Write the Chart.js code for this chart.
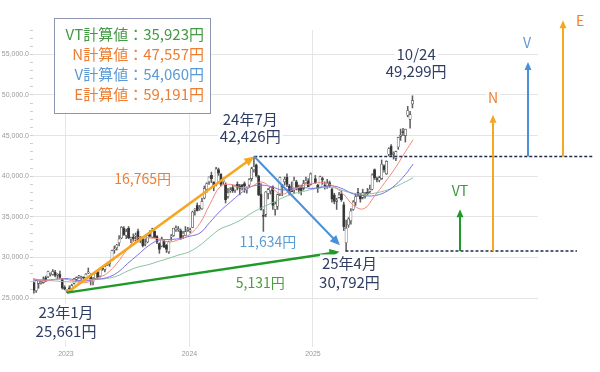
<!DOCTYPE html>
<html><head><meta charset="utf-8">
<script src="https://cdn.jsdelivr.net/npm/chart.js@4.4.1/dist/chart.umd.min.js"></script>
<style>html,body{margin:0;padding:0;background:#fff;}</style>
</head><body>
<canvas id="c" width="600" height="372"></canvas>
<script>
// ---- weekly candles (week start dates) ----
const weeks = [
 "2022-09-26","2022-10-03","2022-10-10","2022-10-17","2022-10-24","2022-10-31","2022-11-07","2022-11-14","2022-11-21","2022-11-28","2022-12-05","2022-12-12","2022-12-19","2022-12-26",
 "2023-01-02","2023-01-09","2023-01-16","2023-01-23","2023-01-30","2023-02-06","2023-02-13","2023-02-20","2023-02-27","2023-03-06","2023-03-13","2023-03-20","2023-03-27",
 "2023-04-03","2023-04-10","2023-04-17","2023-04-24","2023-05-01","2023-05-08","2023-05-15","2023-05-22","2023-05-29","2023-06-05","2023-06-12","2023-06-19","2023-06-26",
 "2023-07-03","2023-07-10","2023-07-17","2023-07-24","2023-07-31","2023-08-07","2023-08-14","2023-08-21","2023-08-28","2023-09-04","2023-09-11","2023-09-18","2023-09-25",
 "2023-10-02","2023-10-09","2023-10-16","2023-10-23","2023-10-30","2023-11-06","2023-11-13","2023-11-20","2023-11-27","2023-12-04","2023-12-11","2023-12-18","2023-12-25",
 "2024-01-01","2024-01-08","2024-01-15","2024-01-22","2024-01-29","2024-02-05","2024-02-12","2024-02-19","2024-02-26","2024-03-04","2024-03-11","2024-03-18","2024-03-25",
 "2024-04-01","2024-04-08","2024-04-15","2024-04-22","2024-04-29","2024-05-06","2024-05-13","2024-05-20","2024-05-27","2024-06-03","2024-06-10","2024-06-17","2024-06-24",
 "2024-07-01","2024-07-08","2024-07-15","2024-07-22","2024-07-29","2024-08-05","2024-08-12","2024-08-19","2024-08-26","2024-09-02","2024-09-09","2024-09-16","2024-09-23",
 "2024-09-30","2024-10-07","2024-10-14","2024-10-21","2024-10-28","2024-11-04","2024-11-11","2024-11-18","2024-11-25","2024-12-02","2024-12-09","2024-12-16","2024-12-23",
 "2025-01-06","2025-01-13","2025-01-20","2025-01-27","2025-02-03","2025-02-10","2025-02-17","2025-02-24","2025-03-03","2025-03-10","2025-03-17","2025-03-24","2025-03-31",
 "2025-04-07","2025-04-14","2025-04-21","2025-04-28","2025-05-05","2025-05-12","2025-05-19","2025-05-26","2025-06-02","2025-06-09","2025-06-16","2025-06-23","2025-06-30",
 "2025-07-07","2025-07-14","2025-07-21","2025-07-28","2025-08-04","2025-08-11","2025-08-18","2025-08-25","2025-09-01","2025-09-08","2025-09-15","2025-09-22","2025-09-29",
 "2025-10-06","2025-10-13","2025-10-20"
];
const openP = [
 26900,25900,26800,26800,26900,27500,27600,27900,27900,28200,27800,27900,27300,26300,
 25800,26200,26000,26800,27300,27600,27500,27500,27500,28100,27800,27000,27400,
 28200,27700,28600,28500,29000,29200,29600,30900,31200,31800,32400,33600,32700,
 33600,32200,32500,32600,33200,32200,32300,31600,31900,32800,32500,33200,32600,
 31700,31400,32000,31500,30700,32500,32700,33400,33400,33300,32700,32700,33300,
 33200,33700,35800,36400,36000,36000,37300,38400,39300,40100,39300,39000,40800,
 40300,39300,39000,37500,38200,38600,38300,39000,38800,38900,39100,38300,38900,
 39700,40800,41400,40000,37800,35200,35300,37900,38200,38700,35900,36300,37800,
 38900,39300,39900,38800,38300,38300,39300,38500,38700,38500,39200,39400,39000,
 39700,38900,38600,39700,38800,38800,39200,38400,37700,36900,37400,37800,36500,
 31800,34000,34500,35900,36800,38000,37600,37400,37500,38000,38100,38400,40800,
 39600,39500,39700,41300,40300,42700,43700,42700,42200,43600,44900,45500,45000,
 47500,47000,48900
];
const highP = [
 27000,27300,27100,27200,27600,27700,28300,28100,28500,28400,28000,28300,27400,26500,
 26000,26500,26700,27400,27600,27800,27700,27600,28000,28700,28000,27500,28100,
 28300,28500,28800,28900,29300,29500,30900,31400,31600,32700,33800,33800,33500,
 33800,32500,32900,33000,33500,32600,32500,32300,32800,33300,33600,33300,32700,
 31800,32500,32200,31600,32000,32800,33600,33900,33800,33500,33200,33800,33700,
 33600,35700,36000,36700,36400,37300,38800,39200,39900,40500,39300,41100,41000,
 40300,39800,39200,38500,38600,38900,38900,39300,39000,39000,39300,38700,39700,
 41100,42426,41500,40100,39100,35900,38100,38500,38700,38800,36800,37800,39900,
 39000,39900,40300,39000,39300,39900,39500,38900,38900,39500,39900,39700,40400,
 40100,39000,40000,39900,39300,39600,39400,38500,37900,37300,38000,38200,36800,
 34600,34900,36000,37000,37700,38500,37900,38400,38000,38500,38900,40300,40900,
 39900,40000,42000,41400,41900,43500,43900,43000,43100,44800,45800,45900,45800,
 48600,48000,49900
];
const lowP = [
 25600,25700,26200,26700,26800,27000,27500,27700,27800,27600,27400,27400,26100,26000,
 25661,26000,25800,26700,27100,27400,27300,27100,27300,28000,26600,26600,27300,
 27400,27600,28400,28200,29000,28900,29600,30500,30900,31400,32300,32700,32300,
 32300,31800,32000,32000,31900,31800,31300,31400,31800,32500,32400,32400,31700,
 30500,31300,31200,30600,30500,32100,32600,33200,33200,32200,32300,32700,33200,
 33000,33700,35200,35700,35800,35900,37200,38000,39000,39200,38200,38800,40100,
 38800,39000,36700,37300,38000,38000,38000,38300,37700,38300,38000,37900,38700,
 39400,40500,39900,37600,35800,33200,35000,37200,37800,35900,35200,35900,37600,
 37600,38900,38700,37700,38100,37900,38300,37900,37700,38300,39100,38700,38900,
 39100,38000,38600,39000,38400,38500,38600,36800,36600,35900,37300,36900,33300,
 30792,33700,34100,35800,36400,37500,36800,37200,37300,37700,37900,38300,39600,
 39300,39300,39600,40500,40200,42500,42400,42100,41900,43300,44400,45000,44200,
 47300,45900,48400
];
const closeP = [
 25940,27120,27090,26890,27110,27200,28260,27900,28280,27780,27900,27530,26240,26090,
 25970,26120,26550,27380,27510,27670,27510,27450,27930,28140,27330,27390,28040,
 27520,28490,28560,28860,29160,29390,30810,30920,31520,32270,33710,32780,33190,
 32390,32390,32300,32760,32190,32470,31450,31620,32710,32610,33530,32400,31860,
 30990,32320,31260,30990,31950,32570,33590,33630,33430,32310,32970,33170,33460,
 33380,35580,35960,35750,36160,36900,38490,39100,39910,39690,38710,40890,40370,
 38990,39520,37070,37930,38240,38230,38790,38650,38490,38680,38810,38600,39580,
 40910,41190,40060,37670,35910,35030,38060,38360,38650,36390,36580,37720,39830,
 38640,39610,38980,37910,38050,39500,38640,38280,38210,39090,39470,38700,40280,
 39190,38450,39930,39570,38790,39150,38780,37160,36890,37050,37680,37120,33780,
 33590,34730,35710,36830,37500,37750,37160,37970,37740,37830,38400,40150,39810,
 39570,39820,41460,40800,41820,43380,42630,42720,43020,44770,45050,45350,45770,
 48090,47580,49300
];

// ---- moving averages (read monthly) ----
const maDates = ["2022-09-25","2022-11-01","2022-12-01",
 "2023-01-01","2023-02-01","2023-03-01","2023-04-01","2023-05-01","2023-06-01","2023-07-01","2023-08-01","2023-09-01","2023-10-01","2023-11-01","2023-12-01",
 "2024-01-01","2024-02-01","2024-03-01","2024-04-01","2024-05-01","2024-06-01","2024-07-01","2024-08-01","2024-09-01","2024-10-01","2024-11-01","2024-12-01",
 "2025-01-01","2025-02-01","2025-03-01","2025-04-01","2025-05-01","2025-06-01","2025-07-01","2025-08-01","2025-09-01","2025-10-01","2025-10-24"];
const ma13 = [27400,27100,27300,
 27300,27000,26900,27400,28000,29300,31000,32400,32400,32300,31900,32200,
 32800,34200,36500,38700,39000,38600,38700,39300,38500,37800,38300,38800,
 39100,39200,38800,37800,36400,36000,37500,39200,41000,43000,44500];
const ma26 = [27200,27200,27300,
 27400,27200,27100,27300,27500,28100,29200,30300,31400,32100,32200,32300,
 32600,33000,34300,35700,36800,37900,38700,38900,38700,38300,38500,38600,
 38500,38700,38800,38400,37800,37600,37600,38000,38900,40200,41500];
const ma52 = [27300,27200,27100,
 27000,27000,27200,27300,27400,27700,28300,28800,29100,29500,29900,30300,
 30700,31500,32500,33500,34000,34600,35400,36100,36700,37300,37800,38100,
 38400,38600,38600,38200,37900,37800,37900,38200,38700,39300,39800];

// ---- axis ticks ----
const yearTicks = [2023, 2024, 2025];
const yMajorTicks = [25000, 30000, 35000, 40000, 45000, 50000, 55000];

// ---- key points & targets ----
const keyDates  = ["2023-01-04", "2024-07-11", "2025-04-07", "2025-10-24"];
const keyValues = [25661, 42426, 30792, 49299];
const keyLabels = ["23年1月", "24年7月", "25年4月", "10/24"];
const targetNames  = ["VT", "N", "V", "E"];
const targetValues = [35923, 47557, 54060, 59191];

function toYear(s, shift) {
  const t = Date.parse(s + "T00:00:00Z") + (shift || 0) * 86400000;
  const yr = new Date(t).getUTCFullYear();
  const a = Date.UTC(yr, 0, 1), b = Date.UTC(yr + 1, 0, 1);
  return yr + (t - a) / (b - a);
}
const fmt = v => v.toLocaleString("en-US");

const xs = weeks.map(w => toYear(w, 2));
const maXs = maDates.map(d => toYear(d));

const JP = "'Noto Sans CJK JP','Noto Sans',sans-serif";

const annot = {
  id: "annot",
  afterDraw(chart) {
    const ctx = chart.ctx, X = chart.scales.x, Y = chart.scales.y;
    const px = v => X.getPixelForValue(v), py = v => Y.getPixelForValue(v);
    const P = keyDates.map((d, i) => ({ x: px(toYear(d)), y: py(keyValues[i]) }));
    const [A, B, C, D] = P;
    const xmin = X.min, span = (X.max - X.min) / (X.right - X.left);
    const atPx = p => xmin + (p - X.left) * span;

    function arrow(x1, y1, x2, y2, color, w, shorten, hl, hw) {
      const dx = x2 - x1, dy = y2 - y1, L = Math.hypot(dx, dy), ux = dx / L, uy = dy / L;
      const tx = x2 - ux * shorten, ty = y2 - uy * shorten;
      const bx = tx - ux * hl, by = ty - uy * hl;
      ctx.strokeStyle = color; ctx.lineWidth = w; ctx.lineCap = "butt";
      ctx.beginPath(); ctx.moveTo(x1, y1); ctx.lineTo(bx + ux, by + uy); ctx.stroke();
      ctx.fillStyle = color; ctx.beginPath();
      ctx.moveTo(tx, ty);
      ctx.lineTo(bx - uy * hw / 2, by + ux * hw / 2);
      ctx.lineTo(bx + uy * hw / 2, by - ux * hw / 2);
      ctx.closePath(); ctx.fill();
    }
    function label(text, cx, cy, color, size, bg) {
      ctx.font = size + "px " + JP;
      const w = ctx.measureText(text).width;
      if (bg) { ctx.fillStyle = "#fff"; ctx.fillRect(cx - w / 2 - 2, cy - size / 2 - 1, w + 4, size + 2); }
      ctx.fillStyle = color; ctx.textAlign = "center"; ctx.textBaseline = "middle";
      ctx.fillText(text, cx, cy);
    }

    ctx.save();
    ctx.setLineDash([3, 2]); ctx.strokeStyle = "#1f2b4d"; ctx.lineWidth = 1.5;
    ctx.beginPath(); ctx.moveTo(B.x, B.y); ctx.lineTo(px(atPx(593)), B.y); ctx.stroke();
    ctx.beginPath(); ctx.moveTo(C.x, C.y); ctx.lineTo(px(atPx(577)), C.y); ctx.stroke();
    ctx.setLineDash([]);

    arrow(A.x, A.y, B.x, B.y, "#f5a623", 2.5, 0, 10, 9);
    arrow(B.x, B.y, C.x, C.y, "#4a90d9", 2, 8, 10, 9);
    arrow(A.x, A.y, C.x, C.y, "#1f9a2a", 2.5, 6, 10, 9);

    const cols = [atPx(460), atPx(493), atPx(528), atPx(563)];
    const bases = [keyValues[2], keyValues[2], keyValues[1], keyValues[1]];
    const tcol = ["#1f9a2a", "#f5a623", "#4a90d9", "#f5a623"];
    const tlab = ["#3a9a3a", "#ed7d31", "#5b9bd5", "#ed7d31"];
    const loff = [[0, -19], [0, -17], [-1, -19], [17, 0]];
    for (let i = 0; i < 4; i++) {
      const x = px(cols[i]);
      arrow(x, py(bases[i]), x, py(targetValues[i]), tcol[i], 2, 0, 8, 7);
    }
    for (let i = 0; i < 4; i++) {
      const x = px(cols[i]);
      label(targetNames[i], x + loff[i][0], py(targetValues[i]) + loff[i][1], tlab[i], 14, true);
    }

    const navy = "#2f3d63";
    const offs = [[-1, 20, 39], [-4, -37, -20], [4, 12, 31], [3, -46, -29]];
    P.forEach((p, i) => {
      label(keyLabels[i], p.x + offs[i][0], p.y + offs[i][1], navy, 15, true);
      label(fmt(keyValues[i]) + "円", p.x + offs[i][0], p.y + offs[i][2], navy, 15, true);
    });

    const mid = (p, q) => ({ x: (p.x + q.x) / 2, y: (p.y + q.y) / 2 });
    const mAB = mid(A, B), mBC = mid(B, C), mAC = mid(A, C);
    label(fmt(keyValues[1] - keyValues[0]) + "円", mAB.x - 18, mAB.y - 46, "#ed7d31", 14, false);
    label(fmt(keyValues[1] - keyValues[2]) + "円", mBC.x - 32, mBC.y + 38, "#5b9bd5", 14, false);
    label(fmt(keyValues[2] - keyValues[0]) + "円", mAC.x + 54, mAC.y + 11, "#4f9c3c", 14, false);

    ctx.fillStyle = "#fff"; ctx.fillRect(54, 18, 156, 95);
    ctx.strokeStyle = "#8f94b5"; ctx.lineWidth = 1; ctx.strokeRect(54.5, 18.5, 156, 95);
    ctx.font = "15px " + JP; ctx.textAlign = "right"; ctx.textBaseline = "middle";
    const lc = ["#449a44", "#ed7d31", "#5b9bd5", "#ed7d31"];
    const ly = [34, 54.5, 74.5, 94.5];
    for (let i = 0; i < 4; i++) {
      ctx.fillStyle = lc[i];
      ctx.fillText(targetNames[i] + "計算値：" + fmt(targetValues[i]) + "円", 204, ly[i]);
    }
    ctx.restore();
  }
};

const yAllTicks = [];
for (let v = 25000; v <= 58000; v += 1000) yAllTicks.push(v);

new Chart(document.getElementById("c"), {
  type: "bar",
  data: {
    datasets: [
      { type: "line", data: maXs.map((x, i) => ({ x, y: ma13[i] })), borderColor: "#f2877a", borderWidth: 1, pointRadius: 0, tension: 0.4, order: 0 },
      { type: "line", data: maXs.map((x, i) => ({ x, y: ma26[i] })), borderColor: "#7a6ee6", borderWidth: 1, pointRadius: 0, tension: 0.4, order: 0 },
      { type: "line", data: maXs.map((x, i) => ({ x, y: ma52[i] })), borderColor: "#86c29e", borderWidth: 1, pointRadius: 0, tension: 0.4, order: 0 },
      { type: "bar", data: xs.map((x, i) => ({ x, y: [lowP[i], highP[i]] })), backgroundColor: "#5f5f5f", barThickness: 0.9, grouped: false, order: 3 },
      { type: "bar", data: xs.map((x, i) => ({ x, y: [openP[i], closeP[i]] })),
        backgroundColor: closeP.map((c, i) => c >= openP[i] ? "#ffffff" : "#333333"),
        borderColor: "#4a4a4a", borderWidth: 0.6, borderSkipped: false, barThickness: 2.3, minBarLength: 1, grouped: false, order: 2 }
    ]
  },
  options: {
    responsive: false, animation: false,
    layout: { padding: { top: 30, right: 62, bottom: 0, left: 0 } },
    plugins: { legend: { display: false }, tooltip: { enabled: false } },
    scales: {
      x: {
        type: "linear", min: 2022.733, max: 2026.822, offset: false,
        afterBuildTicks: s => { s.ticks = yearTicks.map(v => ({ value: v })); },
        afterFit: s => { s.height = 74; },
        ticks: { autoSkip: false, maxRotation: 0, padding: 3, color: "#9a9a9a", font: { size: 7, family: "'Liberation Sans',sans-serif" }, callback: v => String(v) },
        grid: { offset: false, color: "#e6e6e6", tickColor: "#e6e6e6", tickLength: 49, drawTicks: true },
        border: { display: false }
      },
      y: {
        type: "linear", min: 25000, max: 58000,
        afterBuildTicks: s => { s.ticks = yAllTicks.map(v => ({ value: v })); },
        afterFit: s => { s.width = 33; },
        ticks: { autoSkip: false, padding: 1, color: "#9a9a9a", font: { size: 7, family: "'Liberation Sans',sans-serif" },
          callback: v => yMajorTicks.includes(v) ? v.toLocaleString("en-US", { minimumFractionDigits: 1 }) : "" },
        grid: { color: c => (c.tick && yMajorTicks.includes(c.tick.value)) ? "#e4e4e4" : "rgba(0,0,0,0)",
                tickColor: "#cfcfcf", tickLength: 3, drawTicks: true },
        border: { display: false }
      }
    }
  },
  plugins: [annot]
});
</script>
</body></html>
